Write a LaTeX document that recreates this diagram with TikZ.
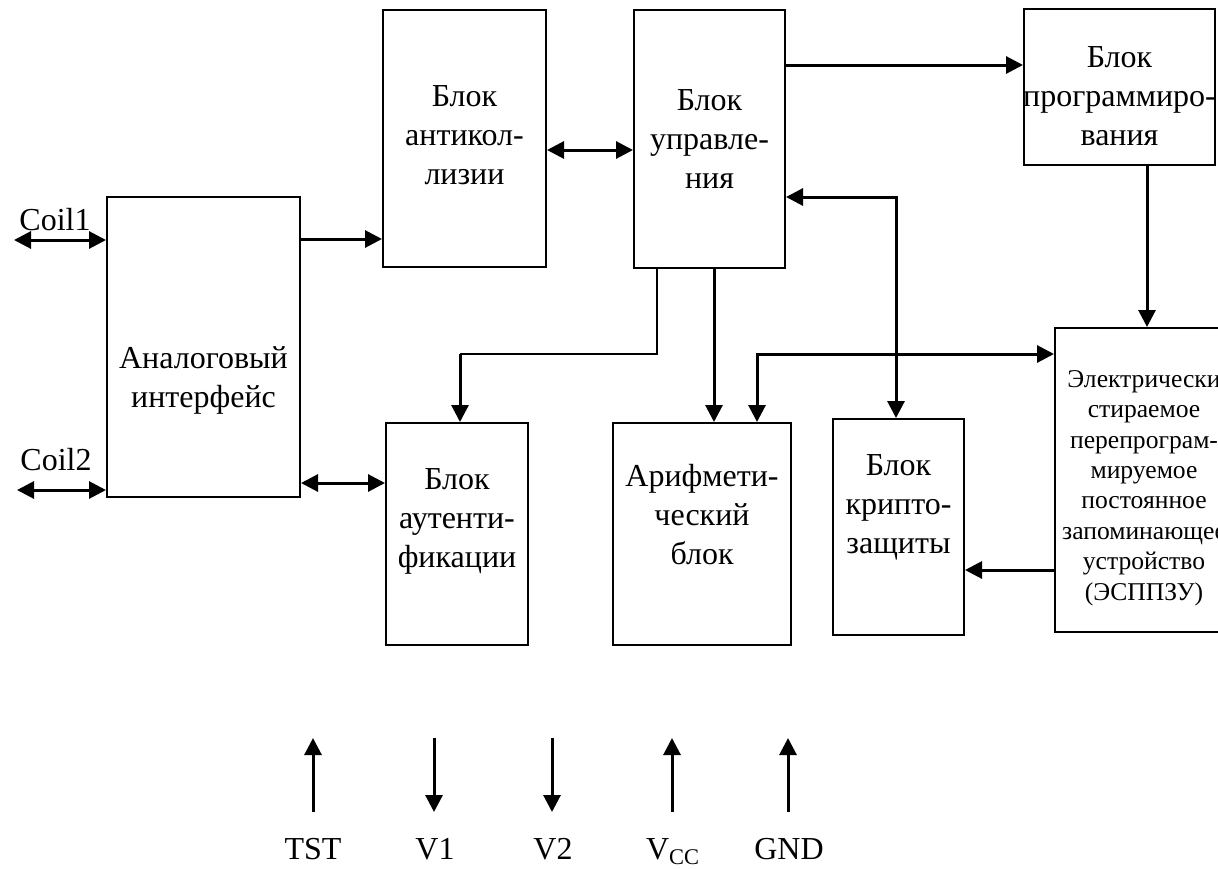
\documentclass[tikz,border=0pt]{standalone}
\usepackage{fontspec}
\setmainfont{Liberation Serif}
\usepackage{tikz}
\usetikzlibrary{arrows.meta,calc,positioning}

\tikzset{
  blok/.style={draw, line width=1pt, inner sep=0pt},
  txt/.style={font=\fontsize{16}{19.5}\selectfont, align=center, inner sep=0pt},
  smalltxt/.style={font=\fontsize{12.8}{15.2}\selectfont, align=center, inner sep=0pt},
  sig/.style={line width=1.5pt},
  thinline/.style={line width=1pt}
}

\begin{document}
\begin{tikzpicture}[>={Triangle[length=8.5pt,width=8.5pt]}, x=0.5pt, y=-0.5pt]
    \useasboundingbox (0,0) rectangle (1218,868);

    % Blocks
    \node[blok, minimum width=96.5pt, minimum height=150pt,
          label={[txt,name=ai-t,yshift=-16.75pt]center:{Аналоговый\\интерфейс}}] (ai) at (203.5,347) {};
    \node[blok, minimum width=81.5pt, minimum height=128.5pt,
          label={[txt,name=anc-t,yshift=1.5pt]center:{Блок\\антикол-\\лизии}}] (anc) at (464.5,138.5) {};
    \node[blok, minimum width=75.5pt, minimum height=129pt,
          label={[txt,name=ctl-t,yshift=0pt]center:{Блок\\управле-\\ния}}] (ctl) at (709.5,139) {};
    \node[blok, minimum width=95.5pt, minimum height=78pt,
          label={[txt,name=prg-t,yshift=-4.5pt]center:{Блок\\программиро-\\вания}}] (prg) at (1119.5,87) {};
    \node[blok, minimum width=89pt, minimum height=152pt,
          label={[smalltxt,name=eep-t,yshift=-4pt]center:{Электрически\\стираемое\\перепрограм-\\мируемое\\постоянное\\запоминающее\\устройство\\(ЭСППЗУ)}}] (eep) at (1144,480) {};
    \node[blok, minimum width=71pt, minimum height=111pt,
          label={[txt,name=au-t,yshift=6.5pt]center:{Блок\\аутенти-\\фикации}}] (au) at (457,534) {};
    \node[blok, minimum width=89pt, minimum height=111pt,
          label={[txt,name=ar-t,yshift=9.5pt]center:{Арифмети-\\ческий\\блок}}] (ar) at (702,534) {};
    \node[blok, minimum width=65.5pt, minimum height=108pt,
          label={[txt,name=cr-t,yshift=10pt]center:{Блок\\крипто-\\защиты}}] (cr) at (898.5,527) {};

    % Coil inputs
    \coordinate (coil1) at (14,240);
    \coordinate (coil2) at (17,490);
    \node[txt, anchor=base] (coil1-t) at (55,230) {Coil1};
    \node[txt, anchor=base] (coil2-t) at (56,470) {Coil2};
    \draw[sig, <->] (coil1) -- (coil1 -| ai.west);
    \draw[sig, <->] (coil2) -- (coil2 -| ai.west);

    % Links between blocks
    \draw[sig, ->] (ai.east |- 0,239) -- (anc.west |- 0,239);
    \draw[sig, <->] (ai.east |- 0,483) -- (au.west |- 0,483);
    \draw[sig, <->] (anc.east |- 0,150) -- (ctl.west |- 0,150);
    \draw[sig, ->] (ctl.east |- 0,65) -- (prg.west |- 0,65);
    \draw[sig, ->] (prg.south -| 1147,0) -- (eep.north -| 1147,0);
    \draw[sig, <->] (ctl.east |- 0,197) -| (cr.north -| 896,0);
    \draw[sig, <->] (eep.west |- 0,354) -| (ar.north -| 757,0);
    \draw[sig, ->] (ctl.south -| 714,0) -- (ar.north -| 714,0);
    \draw[sig, ->] (eep.west |- 0,570) -- (cr.east |- 0,570);

    % Control to authentication
    \coordinate (bend) at (460,354);
    \draw[thinline] (ctl.south -| 657,0) |- (bend);
    \draw[sig, ->] (bend) -- (au.north -| bend);

    % Pins
    \node[txt, anchor=base] (tst) at (313,859) {TST};
    \node[txt, anchor=base] (v1) at (435,859) {V1};
    \node[txt, anchor=base] (v2) at (553,859) {V2};
    \node[txt, anchor=base] (vcc) at (673,859) {V\textsubscript{CC}};
    \node[txt, anchor=base] (gnd) at (789,859) {GND};

    \coordinate (tst-p) at (313,812);
    \coordinate (v1-p) at (434,738);
    \coordinate (v2-p) at (552,738);
    \coordinate (vcc-p) at (672,812);
    \coordinate (gnd-p) at (788,812);
    \draw[sig, ->] (tst-p) -- ++(0,-74);
    \draw[sig, ->] (v1-p) -- ++(0,74);
    \draw[sig, ->] (v2-p) -- ++(0,74);
    \draw[sig, ->] (vcc-p) -- ++(0,-74);
    \draw[sig, ->] (gnd-p) -- ++(0,-74);

\end{tikzpicture}
\end{document}
